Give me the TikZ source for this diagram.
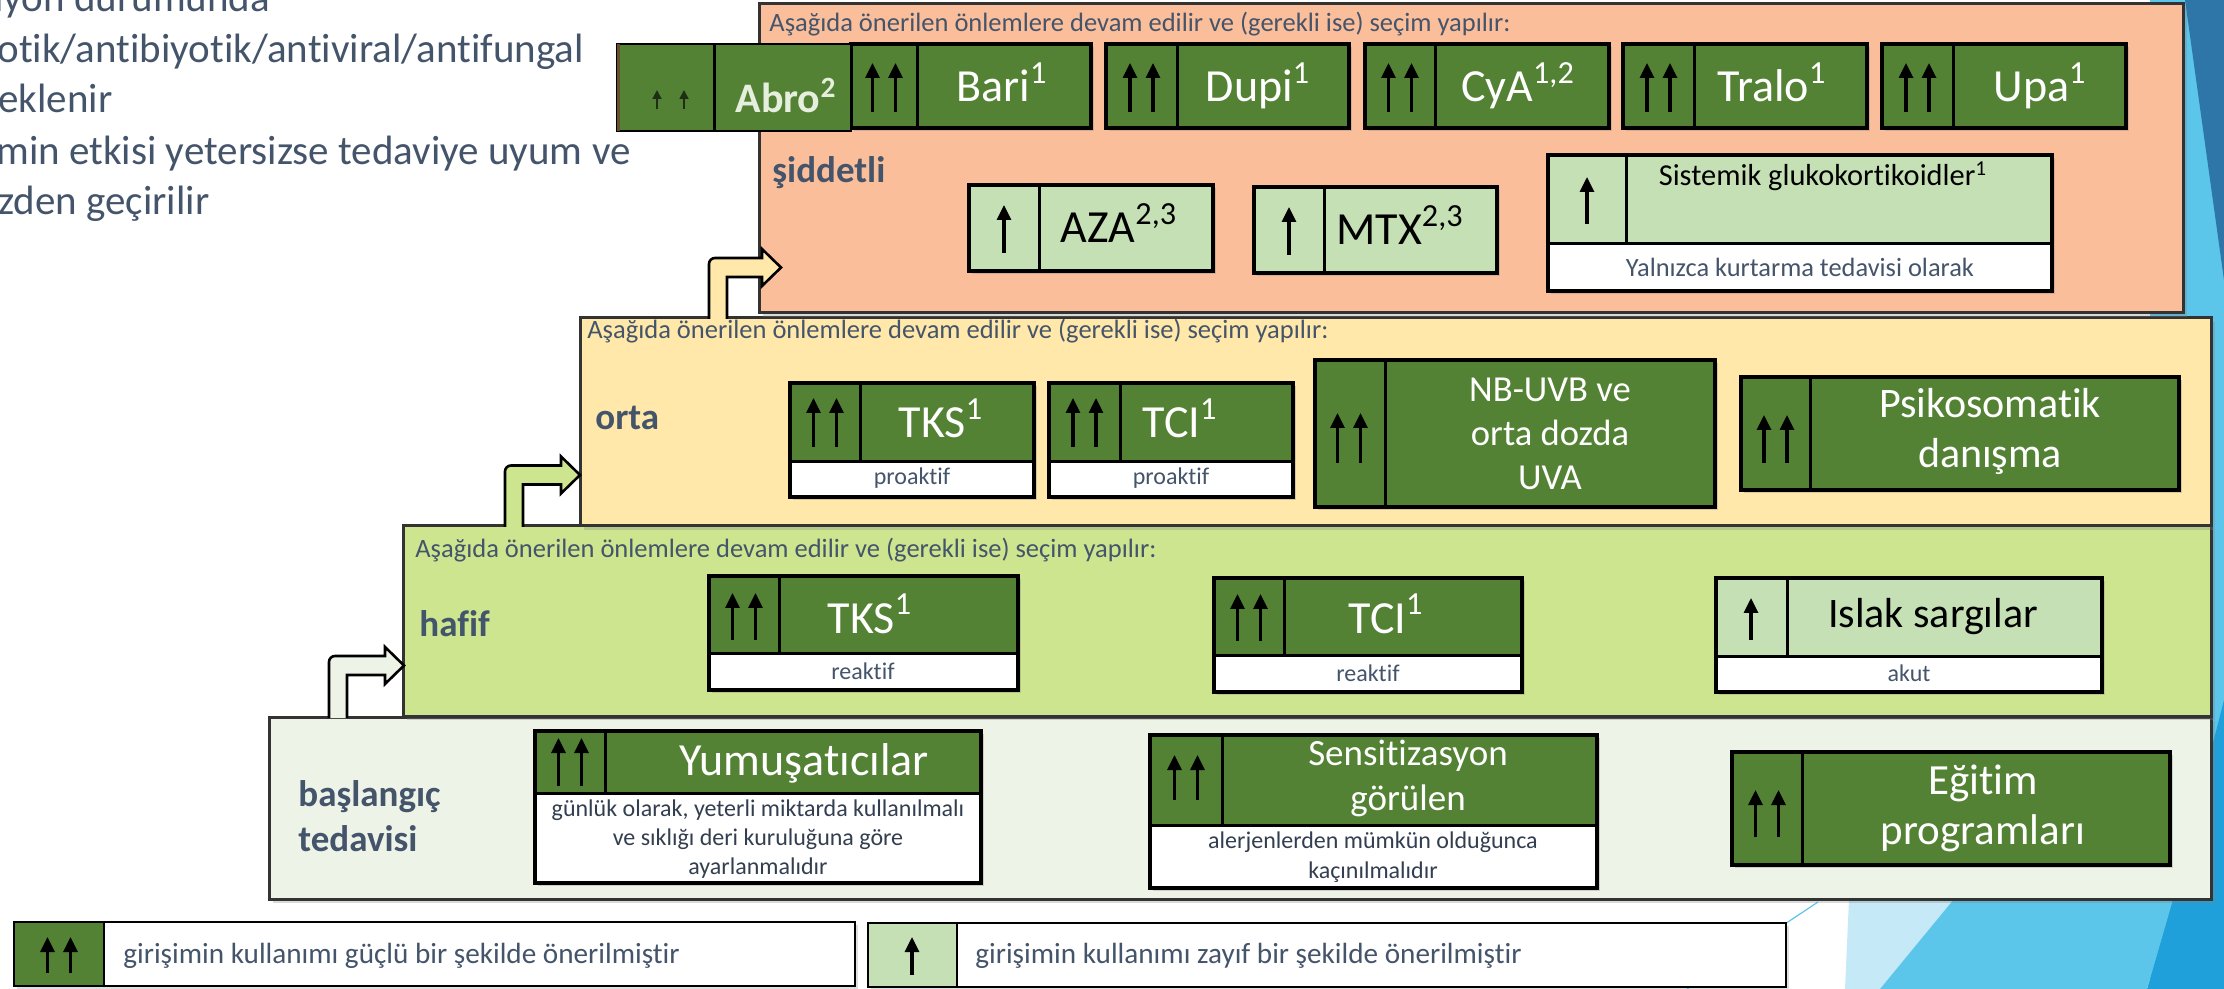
\documentclass[tikz,border=0pt]{standalone}
\usepackage{fontspec}
\setmainfont{Carlito}[Ligatures=NoCommon]
\usetikzlibrary{fit,calc,arrows.meta,shadows}
\definecolor{dg}{HTML}{548235}
\definecolor{lg}{HTML}{C5E0B4}
\definecolor{peach}{HTML}{FBBE9B}
\definecolor{yel}{HTML}{FFE8A9}
\definecolor{hgr}{HTML}{CCE58E}
\definecolor{pale}{HTML}{EDF3E6}
\definecolor{txt}{HTML}{44546A}
\definecolor{dtxt}{HTML}{333F50}
\definecolor{bla}{HTML}{5BC5EA}
\definecolor{blb}{HTML}{2E75A8}
\definecolor{blc}{HTML}{C6E9F7}
\definecolor{bld}{HTML}{1FA0DA}
\definecolor{abrod}{HTML}{1E2E14}
\definecolor{abrot}{HTML}{E6EFDD}
\definecolor{brn}{HTML}{6B4F2A}
\newcommand\fs[2]{\fontsize{#1}{#2}\selectfont}
\tikzset{
 lvlbox/.style={draw=black!80, line width=1.5pt, inner sep=0pt, outer sep=0pt,
   drop shadow={shadow xshift=2pt, shadow yshift=-2pt, opacity=.3}},
 itembox/.style={draw=black, line width=2pt, inner sep=0pt, outer sep=0pt,
   drop shadow={shadow xshift=1.5pt, shadow yshift=-1.5pt, opacity=.3}},
 legbox/.style={draw=black, line width=1pt, inner sep=0pt, outer sep=0pt, fill=white,
   drop shadow={shadow xshift=1.5pt, shadow yshift=-1.5pt, opacity=.25}},
 divl/.style={draw=black, line width=1.5pt},
 uar/.style={line width=1.6pt, -{Triangle[width=7pt,length=7.5pt]}},
 stepshape/.style={draw=black, line width=1.3pt, line join=miter},
 ttl/.style={text=white, font=\fs{23}{27}, inner sep=0pt, anchor=base},
 ttlk/.style={text=black, font=\fs{23}{27}, inner sep=0pt, anchor=base},
 midtxt/.style={text=white, inner sep=0pt, align=center},
 hdr/.style={text=txt, font=\fs{13.25}{16}, inner sep=0pt, anchor=base west},
 lbl/.style={text=txt, font=\bfseries\fs{18.5}{22.5}, inner sep=0pt},
 subtxt/.style={text=txt, font=\fs{12}{14.5}, inner sep=0pt, anchor=base},
 legtxt/.style={text=txt, font=\fs{14.6}{17}, inner sep=0pt, anchor=base west},
 lefttxt/.style={text=txt, font=\fs{20.5}{25}, inner sep=0pt, anchor=base west},
}
\newcommand\myonebox[7]{%
  \node[itembox, fill=#2, fit={(#3,#4)(#6,#7)}] (#1) {};
  \draw[divl] (#5,#4) -- (#5,#7);}
\newcommand\mytwobox[8]{%
  \node[itembox, fill=white, fit={(#3,#4)(#7,#8)}] (#1) {};
  \fill[#2] (#3,#4) rectangle (#7,#6);
  \draw[line width=2pt] (#3,#4) rectangle (#7,#8);
  \draw[divl] (#3,#6) -- (#7,#6);
  \draw[divl] (#5,#4) -- (#5,#6);}
\newcommand\uptwo[3]{\draw[uar] (#1-11.5,#3) -- (#1-11.5,#2);\draw[uar] (#1+11.5,#3) -- (#1+11.5,#2);}
\newcommand\upone[3]{\draw[uar] (#1,#3) -- (#1,#2);}
\newcommand\stepar[3]{%
 \draw[stepshape, fill=#1] let \p1=(#2), \p2=(#3) in
  (\x1,\y1) -- (\x1,\y2+1.75pt) arc[start angle=180,end angle=90,radius=3pt]
  -- (\x2-9.5pt,\y2+4.75pt) -- (\x2-9.5pt,\y2+9.25pt) -- (\x2,\y2)
  -- (\x2-9.5pt,\y2-9.25pt) -- (\x2-9.5pt,\y2-4.75pt) -- (\x1+9pt,\y2-4.75pt) -- (\x1+9pt,\y1);}
\begin{document}
\begin{tikzpicture}[x=0.5pt,y=-0.5pt]
\useasboundingbox (0,0) rectangle (2224,989);
% background facets
\fill[bla] (2150,0) rectangle (2224,989);
\fill[blb] (2185,0) -- (2224,0) -- (2224,280) -- cycle;
\fill[bld] (2224,700) -- (2224,989) -- (2147,989) -- (2173,899) -- cycle;
\fill[blc] (1849,899) -- (1954,899) -- (1880,989) -- (1845,989) -- cycle;
\fill[bla] (1954,899) -- (2173,899) -- (2147,989) -- (1880,989) -- cycle;
\draw[bla, line width=0.6pt] (1818,902) -- (1687,989);
% left slide text
\node[lefttxt] (l1) at (-6,12) {iyon durumunda};
\node[lefttxt] (l2) at (-3,63) {otik/antibiyotik/antiviral/antifungal};
\node[lefttxt] (l3) at (-2,113) {eklenir};
\node[lefttxt] (l4) at (-4,165) {min etkisi yetersizse tedaviye uyum ve};
\node[lefttxt] (l5) at (-2,215) {zden geçirilir};
% level boxes
\node[lvlbox, fill=pale, fit={(269,717)(2211,899)}] (lvB) {};
\node[lvlbox, fill=hgr, fit={(403,526)(2211,716)}] (lvH) {};
\node[lvlbox, fill=yel, fit={(580,318)(2211,526)}] (lvO) {};
\node[lvlbox, fill=peach, fit={(759,4)(2183,313)}] (lvS) {};
% step arrows
\coordinate (s1) at ($(lvB.north west)+(60,1)$);
\coordinate (t1) at ($(lvH.north west)+(1,139.5)$);
\coordinate (s2) at ($(lvH.north west)+(102,1)$);
\coordinate (t2) at ($(lvO.north west)+(0,157)$);
\coordinate (s3) at ($(lvO.north west)+(129,1)$);
\coordinate (t3) at ($(lvS.north west)+(22,263.5)$);
\stepar{pale}{s1}{t1}
\stepar{hgr}{s2}{t2}
\stepar{yel}{s3}{t3}
% headers and labels
\node[hdr] (h1) at (769,32) {Aşağıda önerilen önlemlere devam edilir ve (gerekli ise) seçim yapılır:};
\node[hdr] (h2) at (587,339) {Aşağıda önerilen önlemlere devam edilir ve (gerekli ise) seçim yapılır:};
\node[hdr] (h3) at (415,558) {Aşağıda önerilen önlemlere devam edilir ve (gerekli ise) seçim yapılır:};
\node[lbl, anchor=base west] (lS) at (772,183) {şiddetli};
\node[lbl, anchor=base west] (lO) at (595,430) {orta};
\node[lbl, anchor=base west] (lH) at (419,637) {hafif};
\node[lbl, anchor=west, align=left] (lB) at (298,816) {başlangıç\\tedavisi};
% şiddetli row 1
\myonebox{bari}{dg}{851}{44}{917}{1091}{128}
\uptwo{884}{63}{112}
\node[ttl] (tbari) at (1002,102) {Bari\textsuperscript{1}};
\myonebox{dupi}{dg}{1106}{44}{1177}{1349}{128}
\uptwo{1141.5}{63}{112}
\node[ttl] (tdupi) at (1258,102) {Dupi\textsuperscript{1}};
\myonebox{cya}{dg}{1365}{44}{1435}{1609}{128}
\uptwo{1400}{63}{112}
\node[ttl] (tcya) at (1518,102) {CyA\textsuperscript{1,2}};
\myonebox{tralo}{dg}{1623}{44}{1694}{1867}{128}
\uptwo{1658.5}{63}{112}
\node[ttl] (ttralo) at (1772,102) {Tralo\textsuperscript{1}};
\myonebox{upa}{dg}{1882}{44}{1953}{2126}{128}
\uptwo{1917.5}{63}{112}
\node[ttl] (tupa) at (2040,102) {Upa\textsuperscript{1}};
% Abro overlay
\node[fill=dg, draw=black, line width=1pt, inner sep=0pt, outer sep=0pt, fit={(617,44)(851,131)}] (abro) {};
\draw[brn, line width=1.5pt] (618,44) -- (618,131);
\draw[line width=1.5pt] (714,44) -- (714,131);
\draw[abrod, line width=0.9pt, -{Triangle[width=4.5pt,length=4.5pt]}] (657,109) -- (657,90);
\draw[abrod, line width=0.9pt, -{Triangle[width=4.5pt,length=4.5pt]}] (684,109) -- (684,90);
\node[text=abrot, font=\bfseries\fs{21}{25}, inner sep=0pt, anchor=base] (tabro) at (786,113) {Abro\textsuperscript{2}};
% şiddetli row 2
\myonebox{aza}{lg}{969}{185}{1039}{1213}{271}
\upone{1004}{205}{253}
\node[ttlk] (taza) at (1119,243) {AZA\textsuperscript{2,3}};
\myonebox{mtx}{lg}{1254}{187}{1324}{1497}{273}
\upone{1289}{207}{255}
\node[ttlk] (tmtx) at (1400,245) {MTX\textsuperscript{2,3}};
\mytwobox{sist}{lg}{1548}{155}{1626}{244}{2052}{291}
\upone{1587}{177}{224}
\node[text=black, font=\fs{15.2}{18}, inner sep=0pt, anchor=base] (tsist) at (1823,186) {Sistemik glukokortikoidler\textsuperscript{1}};
\node[subtxt, font=\fs{13.2}{16}] (ssist) at (1800,277) {Yalnızca kurtarma tedavisi olarak};
% orta
\mytwobox{tkso}{dg}{790}{383}{860}{462}{1034}{497}
\uptwo{825}{398}{447}
\node[ttl] (ttkso) at (941,438) {TKS\textsuperscript{1}};
\node[subtxt] (stkso) at (912,485) {proaktif};
\mytwobox{tcio}{dg}{1049}{383}{1120}{462}{1293}{497}
\uptwo{1084.5}{398}{447}
\node[ttl] (ttcio) at (1180,438) {TCI\textsuperscript{1}};
\node[subtxt] (stcio) at (1171,485) {proaktif};
\myonebox{nbuvb}{dg}{1315}{360}{1385}{1715}{507}
\uptwo{1349}{413}{463}
\node[midtxt, font=\fs{18.3}{22}] (tnbuvb) at (1550,434) {NB-UVB ve\\orta dozda\\UVA};
\myonebox{psiko}{dg}{1741}{377}{1810}{2179}{490}
\uptwo{1775.5}{415}{463}
\node[midtxt, font=\fs{21}{25}] (tpsiko) at (1990,431) {Psikosomatik\\danışma};
% hafif
\mytwobox{tksh}{dg}{709}{576}{779}{654}{1018}{690}
\uptwo{744}{593}{640}
\node[ttl] (ttksh) at (870,633) {TKS\textsuperscript{1}};
\node[subtxt] (stksh) at (863,680) {reaktif};
\mytwobox{tcih}{dg}{1214}{578}{1284}{656}{1522}{692}
\uptwo{1249}{594}{641}
\node[ttl] (ttcih) at (1386,633) {TCI\textsuperscript{1}};
\node[subtxt] (stcih) at (1368,682) {reaktif};
\mytwobox{islak}{lg}{1716}{578}{1787}{657}{2102}{692}
\upone{1751}{598}{640}
\node[ttlk, font=\fs{21}{25}] (tislak) at (1933,628) {Islak sargılar};
\node[subtxt] (sislak) at (1909,682) {akut};
% başlangıç
\mytwobox{yum}{dg}{535}{731}{605}{793}{981}{883}
\uptwo{570}{738}{786}
\node[ttl] (tyum) at (804,775) {Yumuşatıcılar};
\node[midtxt, text=dtxt, font=\fs{12}{14.5}] (syum) at (758,839) {günlük olarak, yeterli miktarda kullanılmalı\\ve sıklığı deri kuruluğuna göre\\ayarlanmalıdır};
\mytwobox{sens}{dg}{1150}{735}{1222}{825}{1597}{888}
\uptwo{1186}{755}{800}
\node[midtxt, font=\fs{18.5}{22.5}] (tsens) at (1408,778) {Sensitizasyon\\görülen};
\node[midtxt, text=dtxt, font=\fs{12}{15}] (ssens) at (1373,857) {alerjenlerden mümkün olduğunca\\kaçınılmalıdır};
\myonebox{egit}{dg}{1732}{752}{1802}{2170}{865}
\uptwo{1767}{790}{837}
\node[midtxt, font=\fs{21.5}{25}] (tegit) at (1983,808) {Eğitim\\programları};
% legend
\node[legbox, fit={(14,922)(855,986)}] (legS) {};
\fill[dg] (14,922) rectangle (104,986);
\draw[line width=1pt] (14,922) rectangle (855,986);
\draw[line width=1pt] (104,922) -- (104,986);
\uptwo{59}{937}{973}
\node[legtxt] (tlegS) at (123,963) {girişimin kullanımı güçlü bir şekilde önerilmiştir};
\node[legbox, fit={(868,923)(1786,987)}] (legW) {};
\fill[lg] (868,923) rectangle (957,987);
\draw[line width=1pt] (868,923) rectangle (1786,987);
\draw[line width=1pt] (957,923) -- (957,987);
\upone{912}{937}{975}
\node[legtxt] (tlegW) at (975,963) {girişimin kullanımı zayıf bir şekilde önerilmiştir};
\end{tikzpicture}
\end{document}
